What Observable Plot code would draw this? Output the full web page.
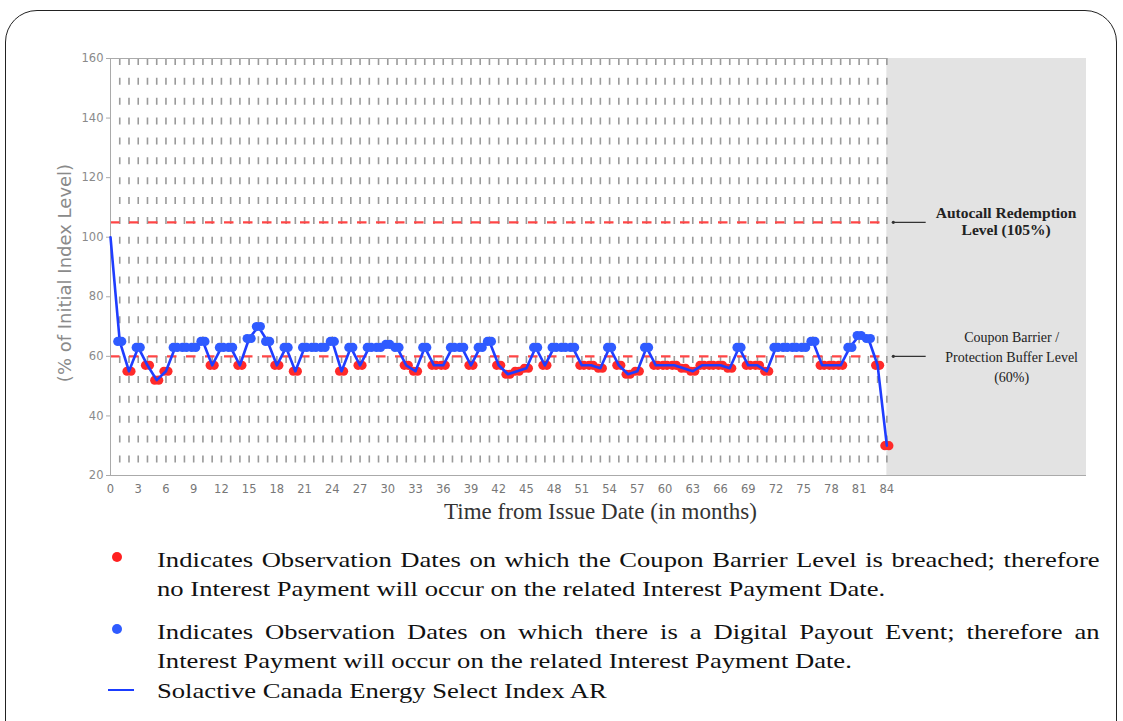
<!DOCTYPE html>
<html>
<head>
<meta charset="utf-8">
<script src="https://cdn.jsdelivr.net/npm/d3@7"></script>
<script src="https://cdn.jsdelivr.net/npm/@observablehq/plot@0.6"></script>
<style>
  html, body { margin: 0; padding: 0; background: #fff; width: 1123px; height: 721px; overflow: hidden; position: relative; }
  #frame { position: absolute; left: 5px; top: 10px; width: 1112px; height: 745px; border: 1.5px solid #222; border-radius: 32px; box-sizing: border-box; }
  #chart { position: absolute; left: 0; top: 0; }
  .legend { position: absolute; left: 0; top: 0; font-family: "Liberation Serif", "Times New Roman", serif; font-size: 22px; color: #111; }
  .row { position: absolute; left: 157px; width: 779px; line-height: 29px; transform: scaleX(1.21); transform-origin: 0 0; white-space: nowrap; }
  .just { text-align: justify; text-align-last: justify; white-space: normal; }
  .sym { position: absolute; }
</style>
</head>
<body>
<div id="frame"></div>
<div id="chart"></div>
<div class="legend">
  <div class="sym" style="left:112px;top:552px;width:10px;height:10px;border-radius:50%;background:#ff2020;"></div>
  <div class="row just" style="top:545px;">Indicates Observation Dates on which the Coupon Barrier Level is breached; therefore</div>
  <div class="row" style="top:574px;">no Interest Payment will occur on the related Interest Payment Date.</div>
  <div class="sym" style="left:112px;top:624px;width:10px;height:10px;border-radius:50%;background:#2f5bff;"></div>
  <div class="row just" style="top:617px;">Indicates Observation Dates on which there is a Digital Payout Event; therefore an</div>
  <div class="row" style="top:646px;">Interest Payment will occur on the related Interest Payment Date.</div>
  <div class="sym" style="left:108px;top:689px;width:26px;height:2px;background:#1a3cff;"></div>
  <div class="row" style="top:676px;">Solactive Canada Energy Select Index AR</div>
</div>
<script>
// ---- data ----
const months = d3.range(0, 85);
const indexLevels = [
  100, 65, 55, 63, 57, 52, 55, 63, 63, 63,
   65, 57, 63, 63, 57, 66, 70, 65, 57, 63,
   55, 63, 63, 63, 65, 55, 63, 57, 63, 63,
   64, 63, 57, 55, 63, 57, 57, 63, 63, 57,
   63, 65, 57, 54, 55, 56, 63, 57, 63, 63,
   63, 57, 57, 56, 63, 57, 54, 55, 63, 57,
   57, 57, 56, 55, 57, 57, 57, 56, 63, 57,
   57, 55, 63, 63, 63, 63, 65, 57, 57, 57,
   63, 67, 66, 57, 30
];
const autocallLevel = 105;
const barrierLevel = 60;
const xTicks = d3.range(0, 85, 3);
const yTicks = [20, 40, 60, 80, 100, 120, 140, 160];
const gridMonths = d3.range(1, 85);
const annotations = [
  {level: autocallLevel, text: "Autocall Redemption\nLevel (105%)"},
  {level: barrierLevel, text: "Coupon Barrier /\nProtection Buffer Level\n(60%)"}
];

const series = months.map((m, i) => ({month: m, value: indexLevels[i]}));
const observations = series.filter(d => d.month >= 1);
const breached = observations.filter(d => d.value < barrierLevel);
const payout = observations.filter(d => d.value >= barrierLevel);

const lastMonth = 84;
const xMax = 105.6;
const annX = 96.9;

const chart = Plot.plot({
  width: 1123,
  height: 530,
  marginLeft: 110,
  marginRight: 37,
  marginTop: 58,
  marginBottom: 55,
  x: {domain: [0, xMax]},
  y: {domain: [20, 160]},
  style: {background: "transparent"},
  marks: [
    Plot.rect([0], {x1: lastMonth, x2: xMax, y1: 20, y2: 160, fill: "#e3e3e3"}),
    Plot.ruleX(gridMonths, {y1: 160, y2: 20, stroke: "#9a9a9a", strokeWidth: 1.6, strokeDasharray: "7,12.87"}),
    Plot.ruleY([autocallLevel, barrierLevel], {x1: 0, x2: lastMonth, stroke: "#ff4545", strokeWidth: 2.2, strokeDasharray: "9.5,9.5"}),
    Plot.ruleY([160], {x1: 0, x2: lastMonth, stroke: "#aaa"}),
    Plot.ruleY([20], {x1: 0, x2: xMax, stroke: "#aaa"}),
    Plot.ruleX([0], {stroke: "#aaa"}),
    Plot.axisY({ticks: yTicks, tickSize: 4, tickPadding: 3, stroke: "#aaa", fill: "#8a8a8a", fontSize: 11.5, fontFamily: "DejaVu Sans", label: null}),
    Plot.axisX({ticks: xTicks, tickSize: 0, tickPadding: 9, fill: "#777", fontSize: 11.5, fontFamily: "DejaVu Sans", label: null}),
    Plot.text(["(% of Initial Index Level)"], {frameAnchor: "left", textAnchor: "middle", rotate: -90, dx: -45, dy: 6, fill: "#8a8a8a", fontSize: 18, fontFamily: "DejaVu Sans"}),
    Plot.text(["Time from Issue Date (in months)"], {frameAnchor: "bottom", dy: 43, dx: 2, fill: "#333", fontSize: 23, fontFamily: "Liberation Serif"}),
    // markers (ellipse-like: two overlapping circles)
    Plot.dot(breached, {x: "month", y: "value", r: 4.6, dx: -2, fill: "#ff2a2a", stroke: "none"}),
    Plot.dot(breached, {x: "month", y: "value", r: 4.6, dx: 2, fill: "#ff2a2a", stroke: "none"}),
    Plot.line(series, {x: "month", y: "value", stroke: "#1f3dff", strokeWidth: 2.6}),
    Plot.dot(payout, {x: "month", y: "value", r: 4.6, dx: -2, fill: "#2f5bff", stroke: "none"}),
    Plot.dot(payout, {x: "month", y: "value", r: 4.6, dx: 2, fill: "#2f5bff", stroke: "none"}),
    // annotations
    Plot.link(annotations, {x1: 84.7, x2: 88.2, y1: "level", y2: "level", stroke: "#333", strokeWidth: 1.2}),
    Plot.dot(annotations, {x: 84.7, y: "level", r: 1.6, fill: "#333"}),
    Plot.text(annotations.slice(0, 1), {x: annX, y: "level", dy: -1, text: "text", lineHeight: 1.08, fontWeight: "bold", fontSize: 15.5, fontFamily: "Liberation Serif", fill: "#222"}),
    Plot.text(annotations.slice(1), {x: annX + 0.6, y: "level", dy: -1, text: "text", lineHeight: 1.43, fontSize: 14, fontFamily: "Liberation Serif", fill: "#222"})
  ]
});
document.getElementById("chart").appendChild(chart);
</script>
</body>
</html>
